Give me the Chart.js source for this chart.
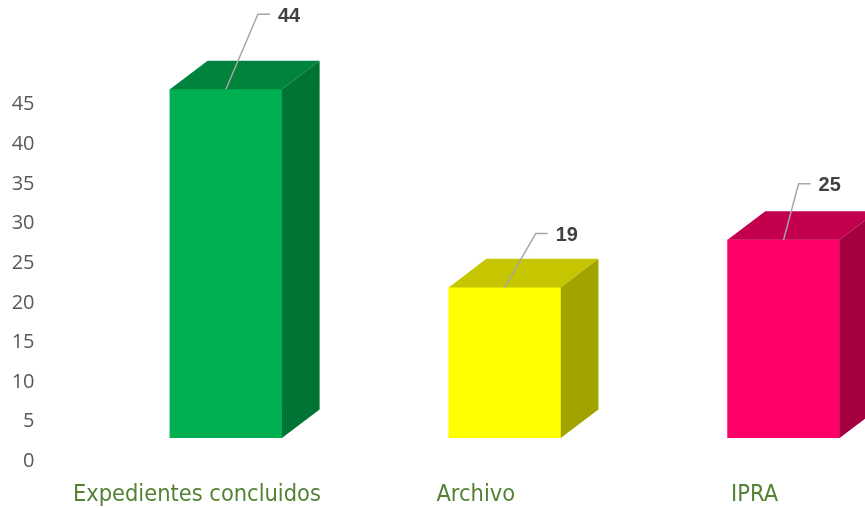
<!DOCTYPE html>
<html>
<head>
<meta charset="utf-8">
<script src="https://cdn.jsdelivr.net/npm/chart.js@4/dist/chart.umd.min.js"></script>
<style>
  html, body { margin: 0; padding: 0; background: #fff; }
  #wrap { width: 865px; height: 508px; overflow: hidden; position: relative; }
  canvas { display: block; }
</style>
</head>
<body>
<div id="wrap"><canvas id="chart" width="923" height="508"></canvas></div>
<script>
const categories = ["Expedientes concluidos", "Archivo", "IPRA"];
const values = [44, 19, 25];
const yTicks = [0, 5, 10, 15, 20, 25, 30, 35, 40, 45];

const frontColors = ["#00B050", "#FFFF00", "#FF0066"];
const topColors = ["#00843D", "#C6C600", "#C2004E"];
const sideColors = ["#007434", "#A3A300", "#A40040"];

// draws the 3d top/side faces plus the leader-line labels
const boxes3d = {
    id: 'boxes3d',
    afterDatasetsDraw(chart, args, opts) {
        const ctx = chart.ctx;
        const meta = chart.getDatasetMeta(0);
        const dx = opts.depthX, dy = opts.depthY;
        meta.data.forEach((bar, i) => {
            const half = bar.width / 2;
            const l = bar.x - half, r = bar.x + half, t = bar.y, b = bar.base;
            ctx.save();
            ctx.fillStyle = opts.top[i];
            ctx.beginPath();
            ctx.moveTo(l, t); ctx.lineTo(l + dx, t - dy); ctx.lineTo(r + dx, t - dy); ctx.lineTo(r, t);
            ctx.closePath(); ctx.fill();
            ctx.fillStyle = opts.side[i];
            ctx.beginPath();
            ctx.moveTo(r, t); ctx.lineTo(r + dx, t - dy); ctx.lineTo(r + dx, b - dy); ctx.lineTo(r, b);
            ctx.closePath(); ctx.fill();

            const sh = opts.labelShift[i];
            const ex = bar.x + sh[0], ey = t + sh[1];
            ctx.strokeStyle = '#A6A6A6';
            ctx.lineWidth = 1.5;
            ctx.beginPath();
            ctx.moveTo(bar.x, t); ctx.lineTo(ex, ey); ctx.lineTo(ex + 12, ey);
            ctx.stroke();
            ctx.fillStyle = '#404040';
            ctx.font = 'bold 20px "Liberation Sans", Arial, sans-serif';
            ctx.textAlign = 'left';
            ctx.textBaseline = 'middle';
            ctx.fillText(String(values[i]), ex + 20, ey + 2);
            ctx.restore();
        });
    }
};

new Chart(document.getElementById('chart'), {
    type: 'bar',
    data: {
        labels: categories,
        datasets: [{
            data: values,
            backgroundColor: frontColors,
            borderWidth: 0,
            barThickness: 112
        }]
    },
    options: {
        responsive: false,
        animation: false,
        layout: { padding: 0 },
        plugins: {
            legend: { display: false },
            tooltip: { enabled: false },
            boxes3d: {
                depthX: 37.7,
                depthY: 28.6,
                top: topColors,
                side: sideColors,
                labelShift: [[32, -75], [31, -54], [15, -56]]
            }
        },
        scales: {
            x: {
                grid: { display: false, drawTicks: false },
                border: { display: false },
                ticks: {
                    color: '#548235',
                    font: { family: '"DejaVu Sans Condensed", "Liberation Sans", sans-serif', size: 23.4 },
                    padding: 43,
                    labelOffset: -29,
                    maxRotation: 0,
                    autoSkip: false
                },
                afterFit: s => { s.height = 70; }
            },
            y: {
                min: 0,
                max: 55.26,
                grid: { display: false, drawTicks: false },
                border: { display: false },
                afterBuildTicks: s => { s.ticks = yTicks.map(v => ({ value: v })); },
                ticks: {
                    color: '#595959',
                    font: { family: '"Open Sans", sans-serif', size: 20 },
                    padding: 52,
                    labelOffset: 23.4
                },
                afterFit: s => { s.width = 86.5; s.paddingTop = 0; s.paddingBottom = 0; }
            }
        }
    },
    plugins: [boxes3d]
});
</script>
</body>
</html>
